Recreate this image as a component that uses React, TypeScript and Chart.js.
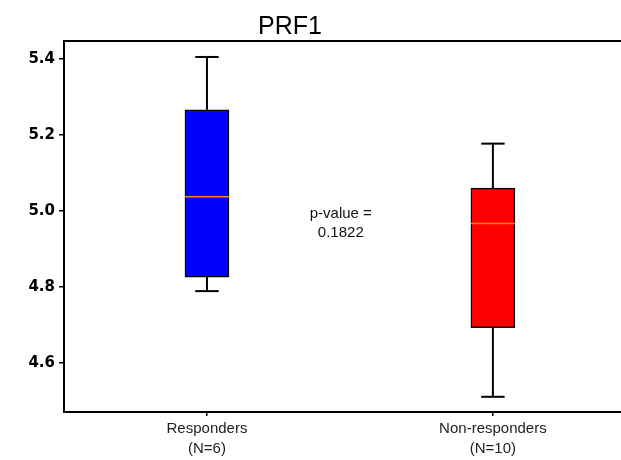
import React, { useEffect, useRef } from "react";
import { Chart, registerables } from "chart.js";

Chart.register(...registerables);

const TITLE = "PRF1";
const GROUP_LABELS: string[][] = [["Responders", "(N=6)"], ["Non-responders", "(N=10)"]];
const POSITIONS = [1, 2];
const WHISKER_LOW = [4.789, 4.511];
const Q1 = [4.826, 4.693];
const MEDIAN = [5.037, 4.967];
const Q3 = [5.266, 5.06];
const WHISKER_HIGH = [5.405, 5.177];
const BOX_COLORS = ["#0000ff", "#ff0000"];
const Y_TICKS = [4.6, 4.8, 5.0, 5.2, 5.4];
const Y_MIN = 4.471;
const Y_MAX = 5.447;
const X_MIN = 0.5;
const X_MAX = 2.448;
const P_TEXT = ["p-value =", "0.1822"];
const P_POS = { x: 1.468, y: 4.969 };

const BOX_HALF = 0.077;
const CAP_HALF = 0.041;

export default function App() {
  const ref = useRef<HTMLCanvasElement | null>(null);

  useEffect(() => {
    if (!ref.current) return;
    const lineDs = (pts: { x: number; y: number }[], color: string, width: number, order: number) => ({
      type: "line" as const,
      data: pts,
      borderColor: color,
      borderWidth: width,
      pointRadius: 0,
      fill: false,
      order,
      borderCapStyle: "butt" as const,
      tension: 0,
    });

    const datasets: any[] = [];
    POSITIONS.forEach((p, i) => {
      datasets.push(lineDs([{ x: p - BOX_HALF, y: MEDIAN[i] }, { x: p + BOX_HALF, y: MEDIAN[i] }], "#ff7f0e", 1.5, 0));
      datasets.push(lineDs([{ x: p, y: Q3[i] }, { x: p, y: WHISKER_HIGH[i] }], "#000000", 2, 5));
      datasets.push(lineDs([{ x: p, y: WHISKER_LOW[i] }, { x: p, y: Q1[i] }], "#000000", 2, 5));
      datasets.push(lineDs([{ x: p - CAP_HALF, y: WHISKER_HIGH[i] }, { x: p + CAP_HALF, y: WHISKER_HIGH[i] }], "#000000", 2, 5));
      datasets.push(lineDs([{ x: p - CAP_HALF, y: WHISKER_LOW[i] }, { x: p + CAP_HALF, y: WHISKER_LOW[i] }], "#000000", 2, 5));
    });
    datasets.push({
      type: "bar",
      data: POSITIONS.map((p, i) => ({ x: p, y: [Q1[i], Q3[i]] })),
      backgroundColor: BOX_COLORS,
      borderColor: "#000000",
      borderWidth: 1.5,
      borderSkipped: false,
      barThickness: 44,
      order: 10,
    });

    const decor = {
      id: "decor",
      afterDraw(chart: any) {
        const { ctx, chartArea, scales } = chart;
        ctx.save();
        ctx.strokeStyle = "#000";
        ctx.lineWidth = 2;
        ctx.beginPath();
        ctx.moveTo(chartArea.left - 1, chartArea.top);
        ctx.lineTo(chartArea.right, chartArea.top);
        ctx.stroke();
        ctx.fillStyle = "#000";
        ctx.font = '25px "Liberation Sans", Arial, sans-serif';
        ctx.textAlign = "center";
        ctx.textBaseline = "alphabetic";
        ctx.fillText(TITLE, 290, 34);
        ctx.font = '15px "Liberation Sans", Arial, sans-serif';
        ctx.fillStyle = "#111";
        ctx.textBaseline = "middle";
        const px = scales.x.getPixelForValue(P_POS.x);
        const py = scales.y.getPixelForValue(P_POS.y);
        ctx.fillText(P_TEXT[0], px, py - 9);
        ctx.fillText(P_TEXT[1], px, py + 10);
        ctx.restore();
      },
    };

    const chart = new Chart(ref.current, {
      type: "bar",
      data: { datasets },
      options: {
        animation: false,
        responsive: false,
        maintainAspectRatio: false,
        layout: { padding: { top: 41, left: 0, right: 0, bottom: 0 } },
        plugins: { legend: { display: false }, tooltip: { enabled: false }, title: { display: false } },
        scales: {
          x: {
            type: "linear",
            min: X_MIN,
            max: X_MAX,
            offset: false,
            afterBuildTicks: (s: any) => {
              s.ticks = POSITIONS.map((v) => ({ value: v }));
            },
            afterFit: (s: any) => {
              s.height = 48;
            },
            ticks: {
              autoSkip: false,
              maxRotation: 0,
              padding: 3,
              color: "#222",
              font: { family: '"Liberation Sans", Arial, sans-serif', size: 15, lineHeight: 1.33 },
              callback: (v: any) => {
                const idx = POSITIONS.indexOf(Number(v));
                return idx >= 0 ? GROUP_LABELS[idx] : "";
              },
            },
            grid: { display: true, offset: false, drawOnChartArea: false, drawTicks: true, tickLength: 4, color: "#000", lineWidth: 1.5 },
            border: { display: true, color: "#000", width: 2 },
          },
          y: {
            type: "linear",
            min: Y_MIN,
            max: Y_MAX,
            afterBuildTicks: (s: any) => {
              s.ticks = Y_TICKS.map((v) => ({ value: v }));
            },
            afterFit: (s: any) => {
              s.width = 64;
            },
            ticks: {
              padding: 4,
              color: "#000",
              font: { family: '"DejaVu Sans", sans-serif', size: 15, weight: "bold" },
              callback: (v: any) => Number(v).toFixed(1),
            },
            grid: { display: true, offset: false, drawOnChartArea: false, drawTicks: true, tickLength: 5, color: "#000", lineWidth: 1.5 },
            border: { display: true, color: "#000", width: 2 },
          },
        },
      },
      plugins: [decor],
    } as any);
    return () => chart.destroy();
  }, []);

  return (
    <div style={{ position: "absolute", left: 0, top: 0, width: 621, height: 460, background: "#fff" }}>
      <canvas ref={ref} width={621} height={460} style={{ display: "block" }} />
    </div>
  );
}
